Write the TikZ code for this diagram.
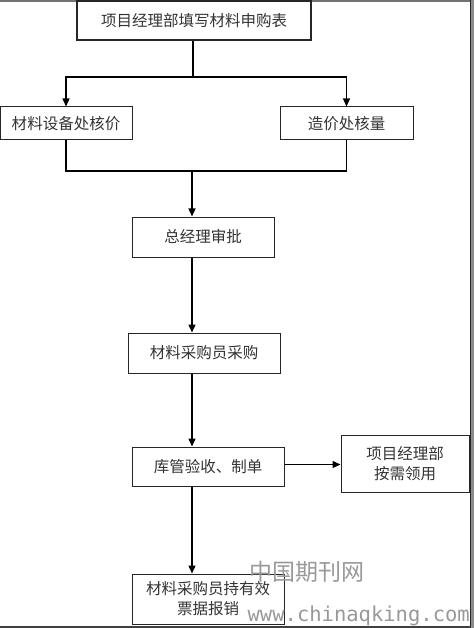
\documentclass[tikz,border=0pt]{standalone}
\usepackage{fontspec}
\newfontfamily\cjk{Noto Sans CJK SC}
\newfontfamily\wmono{DejaVu Sans Mono}
\usetikzlibrary{arrows.meta,calc}
\tikzset{
  box/.style={draw=black!85, line width=1pt, rectangle, inner sep=0pt, align=center,
              font=\cjk\fontsize{15.5}{20}\selectfont, text=black!80},
  conn/.style={draw=black, line width=1.3pt},
  arr/.style={conn, -{Triangle[length=8pt,width=7pt]}},
  wm/.style={text=black!40, inner sep=0pt}
}
\begin{document}
\begin{tikzpicture}[x=1pt,y=-1pt]
\useasboundingbox (0,0) rectangle (474,628);
\fill[white] (0,0) rectangle (474,628);
% page frame
\fill[black!45] (471,0) rectangle (474,628);
\draw[black!55, line width=1.2pt] (0,1) -- (471,1);
\draw[black!85, line width=1.5pt] (470.5,0) -- (470.5,628);
\draw[black!75, line width=2pt] (0,626.5) -- (471,626.5);
% nodes
\node[box, line width=2pt, minimum width=234pt, minimum height=39pt] (n1) at (194,21) {项目经理部填写材料申购表};
\node[box, minimum width=132pt, minimum height=33pt] (n2) at (66,123.5) {材料设备处核价};
\node[box, minimum width=133pt, minimum height=33pt] (n3) at (346.5,123.5) {造价处核量};
\node[box, minimum width=142pt, minimum height=40pt] (n4) at (203,237) {总经理审批};
\node[box, minimum width=152pt, minimum height=40pt] (n5) at (204,353) {材料采购员采购};
\node[box, minimum width=152pt, minimum height=39pt] (n6) at (208,466.5) {库管验收、制单};
\node[box, minimum width=128pt, minimum height=57pt] (n7) at (405,463.5) {项目经理部\\按需领用};
\node[box, minimum width=152pt, minimum height=50pt] (n8) at (208,599) {材料采购员持有效\\票据报销};
% junctions
\coordinate (j1) at (193,77);
\coordinate (j2) at (192,171);
% connectors
\draw[conn] (n1.south -| j1) -- (j1);
\draw[arr] (j1) -| (n2.north);
\draw[arr] (j1) -| (n3.north);
\draw[conn] (n2.south) |- (j2);
\draw[conn] (n3.south) |- (j2);
\draw[arr] (j2) -- (j2 |- n4.north);
\draw[arr] (j2 |- n4.south) -- (j2 |- n5.north);
\draw[arr] (j2 |- n5.south) -- (j2 |- n6.north);
\draw[arr] ([yshift=2pt]n6.east) -- ([yshift=2pt]n6.east -| n7.west);
\draw[arr] (j2 |- n6.south) -- (j2 |- n8.north);
% watermark
\node[wm, font=\cjk\fontsize{23}{23}\selectfont] (wm1) at (307,572) {中国期刊网};
\node[wm, anchor=east, font=\wmono\fontsize{20.5}{20.5}\selectfont] (wm2) at (470,616) {www.chinaqking.com};
\end{tikzpicture}
\end{document}
